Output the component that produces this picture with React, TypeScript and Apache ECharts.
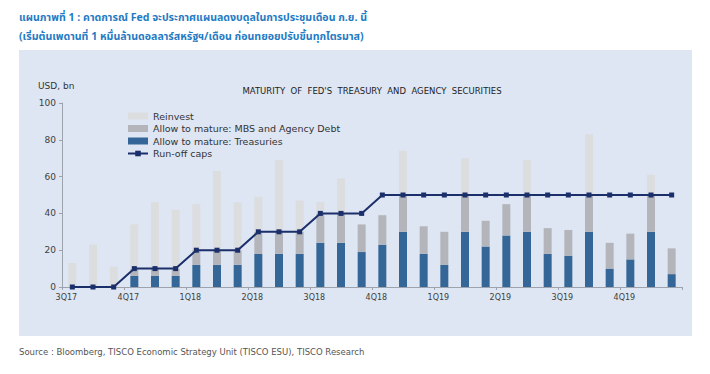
import React, { useEffect, useRef } from "react";
import * as echarts from "echarts";

const months = [
  "Jul-17", "Aug-17", "Sep-17", "Oct-17", "Nov-17", "Dec-17",
  "Jan-18", "Feb-18", "Mar-18", "Apr-18", "May-18", "Jun-18",
  "Jul-18", "Aug-18", "Sep-18", "Oct-18", "Nov-18", "Dec-18",
  "Jan-19", "Feb-19", "Mar-19", "Apr-19", "May-19", "Jun-19",
  "Jul-19", "Aug-19", "Sep-19", "Oct-19", "Nov-19", "Dec-19",
];
const quarterLabels = ["3Q17", "4Q17", "1Q18", "2Q18", "3Q18", "4Q18", "1Q19", "2Q19", "3Q19", "4Q19"];
const treasuries = [0, 0, 0, 6, 6, 6, 12, 12, 12, 18, 18, 18, 24, 24, 19, 23, 30, 18, 12, 30, 22, 28, 30, 18, 17, 30, 10, 15, 30, 7];
const mbs = [0, 0, 0, 4, 4, 4, 8, 8, 8, 12, 12, 12, 16, 16, 15, 16, 20, 15, 18, 20, 14, 17, 20, 14, 14, 20, 14, 14, 20, 14];
const reinvest = [13, 23, 11, 24, 36, 32, 25, 43, 26, 19, 39, 17, 6, 19, 0, 0, 24, 0, 0, 20, 0, 0, 19, 0, 0, 33, 0, 0, 11, 0];
const runoffCaps = [0, 0, 0, 10, 10, 10, 20, 20, 20, 30, 30, 30, 40, 40, 40, 50, 50, 50, 50, 50, 50, 50, 50, 50, 50, 50, 50, 50, 50, 50];

const titleLine1 = "แผนภาพที่ 1 : คาดการณ์ Fed จะประกาศแผนลดงบดุลในการประชุมเดือน ก.ย. นี้";
const titleLine2 = "(เริ่มต้นเพดานที่ 1 หมื่นล้านดอลลาร์สหรัฐฯ/เดือน ก่อนทยอยปรับขึ้นทุกไตรมาส)";
const chartTitle = "MATURITY  OF  FED'S  TREASURY  AND  AGENCY  SECURITIES";
const sourceText = "Source : Bloomberg, TISCO Economic Strategy Unit (TISCO ESU), TISCO Research";

const FONT = "'DejaVu Sans', sans-serif";
const THAI = "'Noto Sans Thai', 'Noto Sans', sans-serif";

export default function App() {
  const ref = useRef<HTMLDivElement>(null);
  useEffect(() => {
    if (!ref.current) return;
    const chart = echarts.init(ref.current, undefined, { renderer: "svg" });
    chart.setOption({
      animation: false,
      backgroundColor: "#ffffff",
      textStyle: { fontFamily: FONT },
      graphic: [
        { type: "rect", z: -10, shape: { x: 19, y: 50, width: 673, height: 286 }, style: { fill: "#dee6f3" } },
        { type: "text", x: 19, y: 18, style: { text: titleLine1, fill: "#1f7bc4", font: "bold 10.6px " + THAI, verticalAlign: "middle" } },
        { type: "text", x: 19, y: 37, style: { text: titleLine2, fill: "#1f7bc4", font: "bold 10.6px " + THAI, verticalAlign: "middle" } },
        { type: "text", x: 372, y: 91, style: { text: chartTitle, fill: "#222", font: "8.5px " + FONT, align: "center", verticalAlign: "middle" } },
        { type: "text", x: 38, y: 86, style: { text: "USD, bn", fill: "#333", font: "9px " + FONT, verticalAlign: "middle" } },
        { type: "text", x: 19, y: 352, style: { text: sourceText, fill: "#555", font: "8.5px " + FONT, verticalAlign: "middle" } },
      ],
      legend: {
        orient: "vertical",
        left: 127,
        top: 110,
        padding: 0,
        itemWidth: 20,
        itemHeight: 7,
        itemGap: 0.5,
        textStyle: { fontSize: 9.5, color: "#333", fontFamily: FONT, lineHeight: 12 },
        data: [
          { name: "Reinvest", icon: "rect" },
          { name: "Allow to mature: MBS and Agency Debt", icon: "rect" },
          { name: "Allow to mature: Treasuries", icon: "rect" },
          { name: "Run-off caps" },
        ],
      },
      grid: { left: 62, right: 28, top: 103, bottom: 87 },
      xAxis: {
        type: "category",
        data: months,
        boundaryGap: true,
        axisLine: { lineStyle: { color: "#9da3ac" } },
        axisTick: { show: true, interval: (i: number) => i % 3 === 0, length: 3, lineStyle: { color: "#9da3ac" } },
        axisLabel: {
          interval: 0,
          fontSize: 8,
          color: "#404040",
          margin: 6,
          padding: [0, 12, 0, 0],
          formatter: (v: string, i: number) => (i % 3 === 0 ? quarterLabels[i / 3] : ""),
        },
      },
      yAxis: {
        type: "value",
        min: 0,
        max: 100,
        interval: 20,
        splitLine: { show: false },
        axisLine: { show: true, lineStyle: { color: "#9da3ac" } },
        axisTick: { show: true, length: 3, lineStyle: { color: "#9da3ac" } },
        axisLabel: { fontSize: 9, color: "#404040", margin: 6 },
      },
      series: [
        { name: "Allow to mature: Treasuries", type: "bar", stack: "s", data: treasuries, barWidth: 8, itemStyle: { color: "#346797" } },
        { name: "Allow to mature: MBS and Agency Debt", type: "bar", stack: "s", data: mbs, barWidth: 8, itemStyle: { color: "#b3b5ba" } },
        { name: "Reinvest", type: "bar", stack: "s", data: reinvest, barWidth: 8, itemStyle: { color: "#dcdddf" } },
        {
          name: "Run-off caps",
          type: "line",
          data: runoffCaps,
          symbol: "rect",
          symbolSize: 5,
          itemStyle: { color: "#1b2f6b" },
          lineStyle: { color: "#1b2f6b", width: 2 },
          z: 5,
        },
      ],
    });
    return () => chart.dispose();
  }, []);
  return <div ref={ref} style={{ position: "absolute", left: 0, top: 0, width: 710, height: 374 }} />;
}
